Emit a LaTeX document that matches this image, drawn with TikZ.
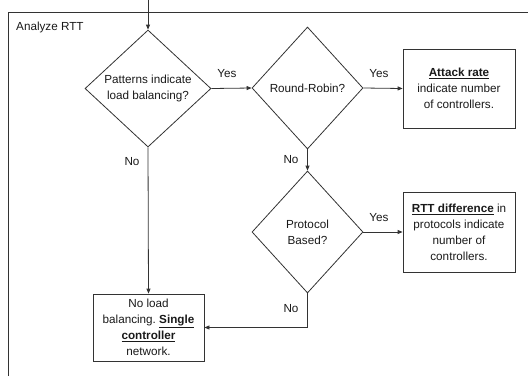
\documentclass[tikz,border=0pt]{standalone}
\usepackage{fontspec}
\setmainfont{Liberation Sans}
\usetikzlibrary{shapes.geometric,arrows.meta}
\frenchspacing
\begin{document}
\begin{tikzpicture}[x=1pt,y=-1pt,
  font=\fontsize{11.7}{16}\selectfont,
  line/.style={draw=black!80, line width=0.8pt},
  arr/.style={line, -{Triangle[length=5pt,width=4pt]}},
  decision/.style={diamond, line, inner sep=0pt, align=center, text=black!90},
  outcome/.style={rectangle, line, inner sep=0pt, align=center, text=black!90},
  lbl/.style={inner sep=0pt, text=black!90}]
  \useasboundingbox (0,0) rectangle (528,376);
  % enclosing frame
  \draw[line] (8,376) -- (8,12) -- (528,12);
  \node[lbl, anchor=west] (title) at (16,27) {Analyze RTT};

  % decisions
  \node[decision, minimum width=126pt, minimum height=117pt] (d1) at (148,88.5)
    {Patterns indicate\\load balancing?};
  \node[decision, minimum width=111pt, minimum height=122pt] (d2) at (307.5,88)
    {Round-Robin?};
  \node[decision, minimum width=111pt, minimum height=122pt] (d3) at (307.5,232)
    {Protocol\\Based?};

  % outcomes
  \node[outcome, minimum width=112pt, minimum height=79pt] (o1) at (459,88.5)
    {\underline{\textbf{Attack rate}}\\indicate number\\of controllers.};
  \node[outcome, minimum width=112pt, minimum height=80pt] (o2) at (459,232)
    {\underline{\textbf{RTT difference}} in\\protocols indicate\\number of\\controllers.};
  \node[outcome, minimum width=111pt, minimum height=67pt] (o3) at (148.5,327.5)
    {No load\\balancing. \underline{\textbf{Single}}\\\underline{\textbf{controller}}\\network.};

  % connectors
  \coordinate (entry) at (148,0);
  \coordinate (bend) at (307.5,327.5);
  \draw[arr] (entry) -- (d1.north);
  \draw[arr] (d1.east) -- (d2.west);
  \draw[arr] (d2.east) -- (o1.west);
  \draw[arr] (d2.south) -- (d3.north);
  \draw[arr] (d3.east) -- (o2.west);
  \draw[arr] (d1.south) -- (o3.north);
  \draw[arr] (d3.south) -- (bend) -- (o3.east);

  % branch labels
  \node[lbl] (y1) at (227,74) {Yes};
  \node[lbl] (y2) at (379,74) {Yes};
  \node[lbl] (y3) at (379,218) {Yes};
  \node[lbl] (n1) at (132,162) {No};
  \node[lbl] (n2) at (291,160) {No};
  \node[lbl] (n3) at (291,309) {No};
\end{tikzpicture}
\end{document}
